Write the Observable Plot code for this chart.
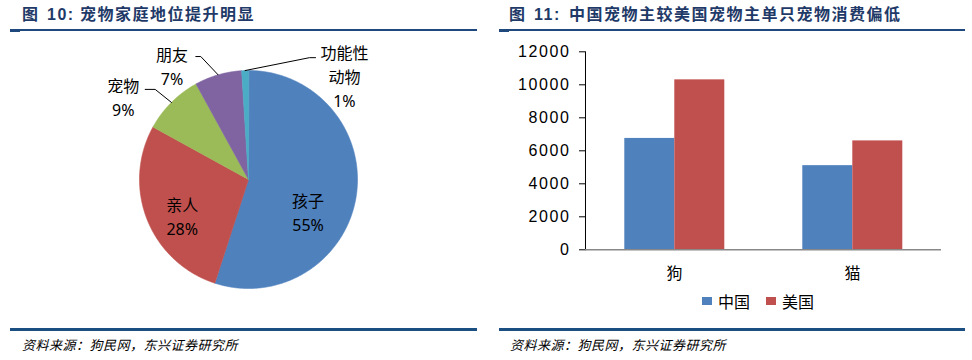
<!DOCTYPE html>
<html><head><meta charset="utf-8">
<script src="https://cdn.jsdelivr.net/npm/d3@7"></script>
<script src="https://cdn.jsdelivr.net/npm/@observablehq/plot@0.6"></script>
<style>
html,body{margin:0;padding:0;background:#fff;}
#root{position:relative;width:972px;height:360px;overflow:hidden;font-family:"Noto Sans CJK SC",sans-serif;color:#000;}
.t{position:absolute;top:5px;line-height:20px;font-weight:bold;font-size:16px;font-family:"Liberation Sans","Noto Sans CJK SC",sans-serif;color:#1f3a68;letter-spacing:1.5px;white-space:pre;}
.tline{position:absolute;top:29px;height:1.5px;background:#1f497d;}
.tab{position:absolute;top:29px;height:3px;width:10px;background:#1f497d;}
.bline{position:absolute;top:328px;height:2.5px;background:#1b4f82;}
.src{position:absolute;top:336px;line-height:18px;font-style:italic;font-size:13px;letter-spacing:0.5px;white-space:pre;}
#pie,#bar{position:absolute;top:35px;}
#pie{left:0px;} #bar{left:486px;}
.sw{position:absolute;top:297px;width:10px;height:8px;}
.lt{position:absolute;top:291px;line-height:20px;font-size:16px;}
#bar [aria-label^="y-axis"] text{letter-spacing:1.6px;}
</style></head>
<body><div id="root">
<div class="t" style="left:22px">图</div><div class="t" style="left:47px">10:</div><div class="t" style="left:80px">宠物家庭地位提升明显</div>
<div class="t" style="left:509px">图</div><div class="t" style="left:534px">11:</div><div class="t" style="left:569px">中国宠物主较美国宠物主单只宠物消费偏低</div>
<div class="tline" style="left:10px;width:467px"></div><div class="tab" style="left:10px"></div>
<div class="tline" style="left:499px;width:466px"></div><div class="tab" style="left:499px"></div>
<div class="bline" style="left:10px;width:467px"></div>
<div class="bline" style="left:499px;width:466px"></div>
<div class="src" style="left:22px">资料来源：狗民网，东兴证券研究所</div>
<div class="src" style="left:510px">资料来源：狗民网，东兴证券研究所</div>
<div id="pie"></div>
<div id="bar"></div>
<div id="legend"></div>
</div>
<script>
// ---- data ----
const pieLabels = ["孩子", "亲人", "宠物", "朋友", "功能性\n动物"];
const pieValues = [55, 28, 9, 7, 1];
const categories = ["狗", "猫"];
const countries = ["中国", "美国"];
const chinaSpend = [6750, 5100];
const usSpend = [10300, 6600];
const yTicks = [0, 2000, 4000, 6000, 8000, 10000, 12000];

// ---- styles / layout ----
const pieColors = ["#4f81bd", "#c0504d", "#9bbb59", "#8064a2", "#4bacc6"];
const barColors = ["#4f81bd", "#c0504d"];
const pieLayout = [
  {k: 0.6, dx: -5, dy: 22},
  {k: 0.6, dx: -5.5, dy: 12},
  {k: 1.3, dx: -25, dy: 17, lead: {dA: -1, k1: 1.19, hx: -10}},
  {k: 1.2, dx: -40, dy: 11, lead: {dA: -5, k1: 1.21, hx: -5}},
  {k: 1.2, dx: 100, dy: 27, lead: {dA: 28.4, k1: 1.25, hx: 6}}
];
const R = 109;

// ---- pie ----
const arcs = d3.pie().sort(null).value(d => d)(pieValues);
const pieMarks = [];
arcs.forEach((p, i) => {
  const n = Math.max(2, Math.ceil((p.endAngle - p.startAngle) / (Math.PI / 360)));
  const pts = [{x: 0, y: 0}];
  for (let j = 0; j <= n; j++) {
    const a = p.startAngle + (p.endAngle - p.startAngle) * j / n;
    pts.push({x: Math.sin(a), y: Math.cos(a)});
  }
  pieMarks.push(Plot.line(pts, {x: "x", y: "y", fill: pieColors[i], stroke: pieColors[i], strokeWidth: 0.6, curve: "linear-closed"}));
});
arcs.forEach((p, i) => {
  const L = pieLayout[i];
  const mid = (p.startAngle + p.endAngle) / 2;
  if (L.lead) {
    const a2 = mid + L.lead.dA * Math.PI / 180;
    const q = {x: Math.sin(a2) * L.lead.k1, y: Math.cos(a2) * L.lead.k1};
    const pts = [{x: Math.sin(mid), y: Math.cos(mid)}, q, {x: q.x + L.lead.hx / R, y: q.y}];
    pieMarks.push(Plot.line(pts, {x: "x", y: "y", stroke: "#000", strokeWidth: 1}));
  }
  pieMarks.push(Plot.text([{x: Math.sin(mid) * L.k, y: Math.cos(mid) * L.k, t: pieLabels[i] + "\n" + pieValues[i] + "%"}],
    {x: "x", y: "y", text: "t", dx: L.dx, dy: L.dy, fontSize: 16, lineHeight: 1.5, fill: "#000"}));
});
const pieChart = Plot.plot({
  width: 486, height: 285,
  x: {domain: [-1, 1], range: [248 - R, 248 + R], axis: null},
  y: {domain: [-1, 1], range: [144 + R, 144 - R], axis: null},
  style: {fontFamily: "'Noto Sans','Noto Sans CJK SC',sans-serif", fontSize: "16px", background: "transparent"},
  marks: pieMarks
});
document.getElementById("pie").appendChild(pieChart);

// ---- bars ----
const barRows = [];
categories.forEach((c, i) => {
  barRows.push({animal: c, country: countries[0], value: chinaSpend[i]});
  barRows.push({animal: c, country: countries[1], value: usSpend[i]});
});
const barChart = Plot.plot({
  width: 486, height: 250,
  marginLeft: 98.7, marginRight: 31.3, marginTop: 16.3, marginBottom: 35.7,
  facet: {data: barRows, x: "animal"},
  fx: {domain: categories, padding: 0, axis: "bottom", tickSize: 0, tickPadding: 18, label: null},
  x: {domain: countries, paddingInner: 0, paddingOuter: 0.78, axis: null},
  y: {domain: [0, 12000], ticks: yTicks, tickSize: 6, tickPadding: 9, line: true, label: null, tickFormat: d => String(d)},
  color: {domain: countries, range: barColors},
  style: {fontFamily: "'Liberation Sans','Noto Sans CJK SC',sans-serif", fontSize: "16px", background: "transparent", color: "#000"},
  marks: [
    Plot.barY(barRows, {x: "country", y: "value", fill: "country"}),
    Plot.ruleY([0], {stroke: "#888", strokeWidth: 1.5})
  ]
});
document.getElementById("bar").appendChild(barChart);

// ---- legend ----
const lg = document.getElementById("legend");
const legendX = [702, 766];
countries.forEach((c, i) => {
  const s = document.createElement("div"); s.className = "sw"; s.style.left = legendX[i] + "px"; s.style.background = barColors[i]; lg.appendChild(s);
  const t = document.createElement("div"); t.className = "lt"; t.style.left = (legendX[i] + 16) + "px"; t.textContent = c; lg.appendChild(t);
});
</script>
</body></html>
